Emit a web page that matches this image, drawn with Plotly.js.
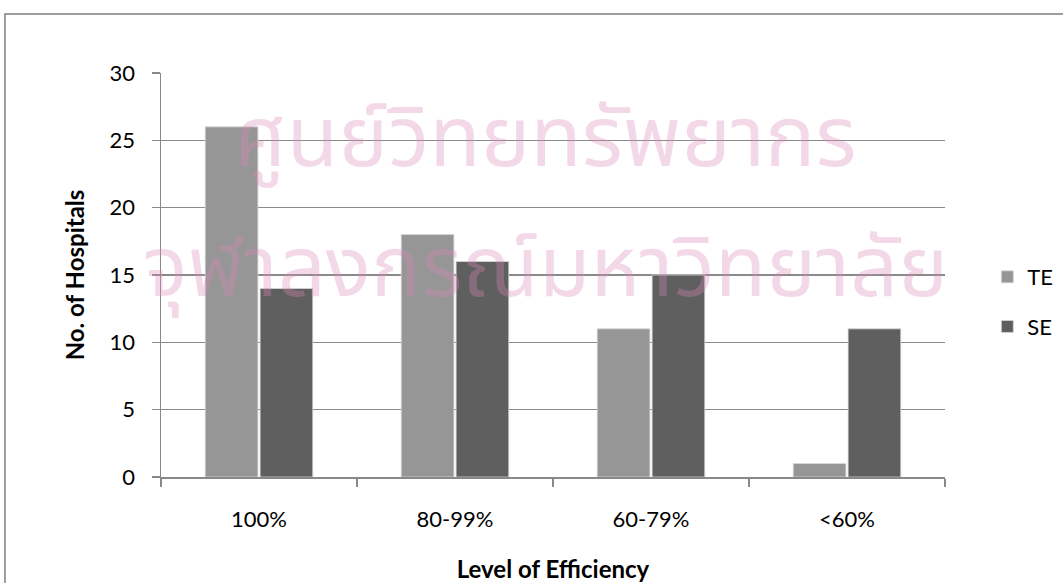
<!DOCTYPE html>
<html>
<head>
<meta charset="utf-8">
<script src="https://cdn.plot.ly/plotly-3.0.1.min.js"></script>
<style>html,body{margin:0;padding:0;background:#fff;}#chart{width:1063px;height:583px;}</style>
</head>
<body>
<div id="chart"></div>
<script>
const categories = ["100%", "80-99%", "60-79%", "<60%"];
const teValues = [26, 18, 11, 1];
const seValues = [14, 16, 15, 11];
const yTicks = [0, 5, 10, 15, 20, 25, 30];
const watermarkLines = ["ศูนย์วิทยทรัพยากร", "จุฬาลงกรณ์มหาวิทยาลัย"];

const font = "Lato, 'Open Sans', 'Noto Sans', sans-serif";
const thaiFont = "'Noto Sans Thai', 'Noto Sans', 'DejaVu Sans', sans-serif";
const wmColor = "rgba(220,140,185,0.33)";

const traces = [
  {type: "bar", name: "TE", x: categories, y: teValues, legendgroup: "a",
   marker: {color: "#969696", line: {color: "rgba(215,215,215,0.8)", width: 1}}},
  {type: "bar", name: "SE", x: categories, y: seValues, legendgroup: "b",
   marker: {color: "#5f5f5f", line: {color: "rgba(215,215,215,0.8)", width: 1}}}
];

const layout = {
  width: 1063, height: 583,
  margin: {l: 161, r: 118, t: 73, b: 106, autoexpand: false},
  paper_bgcolor: "#ffffff", plot_bgcolor: "#ffffff",
  font: {family: font, size: 22, color: "#000"},
  barmode: "group", bargap: 0.44, bargroupgap: 0.04,
  xaxis: {
    type: "category",
    showgrid: false, showline: true, linecolor: "#898989", linewidth: 1.5,
    ticks: "outside", tickson: "boundaries", ticklen: 8, tickcolor: "#898989", tickwidth: 1.5,
    ticklabelstandoff: 22,
    tickfont: {family: font, size: 22, color: "#000"},
    title: {text: "<b>Level of Efficiency</b>", font: {family: font, size: 24, color: "#000"}, standoff: 30},
    fixedrange: true
  },
  yaxis: {
    range: [0, 30], tickvals: yTicks, ticktext: yTicks.map(String),
    showgrid: true, gridcolor: "#8a8a8a", gridwidth: 1.5,
    showline: true, linecolor: "#898989", linewidth: 1.5,
    ticks: "outside", ticklen: 8, tickcolor: "#898989", tickwidth: 1.5,
    ticklabelstandoff: 12, zeroline: false,
    tickfont: {family: font, size: 22, color: "#000"},
    title: {text: "<b>No. of Hospitals</b>", font: {family: font, size: 24, color: "#000"}, standoff: 18},
    fixedrange: true
  },
  legend: {
    x: 1.054, xanchor: "left", y: 0.433, yanchor: "middle",
    traceorder: "grouped", tracegroupgap: 18,
    font: {family: font, size: 22, color: "#000"},
    bgcolor: "rgba(0,0,0,0)"
  },
  shapes: [
    {type: "rect", xref: "paper", yref: "paper", x0: -0.199, x1: 1.2, y0: -0.35, y1: 1.146,
     line: {color: "#7f7f7f", width: 1.5}, fillcolor: "rgba(0,0,0,0)", layer: "below"}
  ],
  annotations: [
    {xref: "paper", yref: "paper", x: 0.49, y: 0.834, xanchor: "center", yanchor: "middle",
     text: watermarkLines[0], showarrow: false,
     font: {family: thaiFont, size: 84, color: wmColor}},
    {xref: "paper", yref: "paper", x: 0.49, y: 0.51, xanchor: "center", yanchor: "middle",
     text: watermarkLines[1], showarrow: false,
     font: {family: thaiFont, size: 84, color: wmColor}}
  ],
  showlegend: true
};

Plotly.newPlot("chart", traces, layout, {displayModeBar: false, staticPlot: true});
</script>
</body>
</html>
